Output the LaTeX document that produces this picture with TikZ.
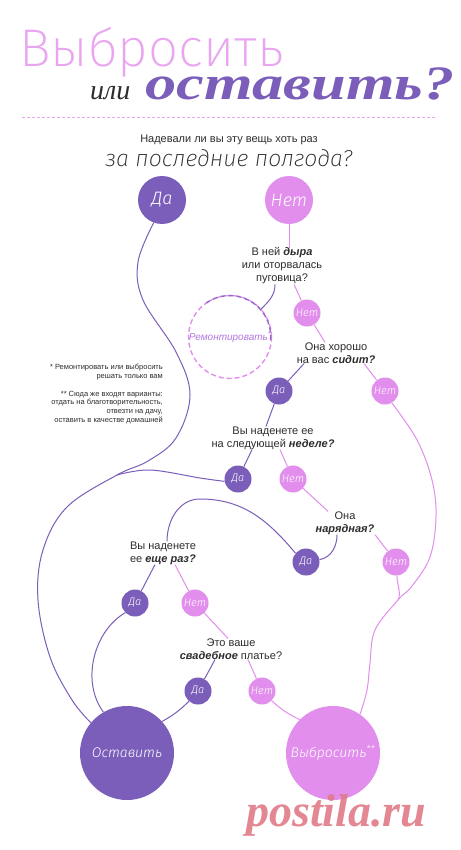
\documentclass[tikz,border=0pt]{standalone}
\usepackage{fontspec}
\setmainfont{Liberation Sans}
\IfFontExistsTF{Fira Sans ExtraLight}{\newfontfamily\thinup{Fira Sans ExtraLight}}{%
  \IfFontExistsTF{Lato Light}{\newfontfamily\thinup{Lato Light}}{%
    \IfFontExistsTF{DejaVu Sans ExtraLight}{\newfontfamily\thinup{DejaVu Sans ExtraLight}}{\newfontfamily\thinup{Liberation Sans}}}}
\IfFontExistsTF{Fira Sans ExtraLight Italic}{\newfontfamily\thinit{Fira Sans ExtraLight Italic}}{%
  \IfFontExistsTF{Lato Light Italic}{\newfontfamily\thinit{Lato Light Italic}}{%
    \IfFontExistsTF{DejaVu Sans ExtraLight}{\newfontfamily\thinit{DejaVu Sans ExtraLight}[FakeSlant=0.2]}{\newfontfamily\thinit{Liberation Sans Italic}}}}
\IfFontExistsTF{Fira Sans Light Italic}{\newfontfamily\lightit{Fira Sans Light Italic}}{%
  \IfFontExistsTF{Lato Light Italic}{\newfontfamily\lightit{Lato Light Italic}}{\newfontfamily\lightit{Liberation Sans Italic}}}
\newfontfamily\seriffont{Liberation Serif}
\definecolor{dapurple}{RGB}{123,94,185}
\definecolor{netpink}{RGB}{226,142,236}
\definecolor{titlepink}{RGB}{233,165,240}
\definecolor{txtgray}{RGB}{45,45,45}
\definecolor{remtext}{RGB}{180,120,225}
\definecolor{wmred}{RGB}{224,122,136}
\newcommand\emphb[1]{{\bfseries\itshape #1}}

\begin{document}
\begin{tikzpicture}[x=1pt,y=1pt,
  dabig/.style={circle,fill=dapurple,minimum size=48pt,inner sep=0pt,text=white,font=\lightit\fontsize{18}{18}\selectfont},
  netbig/.style={dabig,fill=netpink},
  dasmall/.style={circle,fill=dapurple,minimum size=27pt,inner sep=0pt,text=white,font=\lightit\fontsize{11}{11}\selectfont},
  netsmall/.style={dasmall,fill=netpink},
  final/.style={circle,minimum size=94pt,inner sep=0pt,text=white,font=\lightit\fontsize{14}{14}\selectfont},
  ques/.style={align=center,text=txtgray,inner sep=0pt,font=\fontsize{11}{13}\selectfont},
  daline/.style={dapurple,line width=1pt},
  netline/.style={netpink,line width=1pt}]
  \useasboundingbox[fill=white] (0,0) rectangle (460,-850);

  % Title
  \node[anchor=base west,inner sep=0pt,text=titlepink,font=\thinup\fontsize{53}{53}\selectfont] (ttl) at (19,-67) {Выбросить};
  \node[anchor=base west,inner sep=0pt,text=txtgray,font=\seriffont\itshape\fontsize{28}{28}\selectfont] (ili) at (90,-100) {или};
  \node[anchor=base west,inner sep=0pt,text=dapurple,font=\seriffont\bfseries\itshape\fontsize{48}{48}\selectfont] (ost) at (145,-100) {\scalebox{1.3}[1]{оставить?}};
  \draw[titlepink,dash pattern=on 3pt off 2pt] (22,-117) -- (437,-117);

  % First question
  \node[ques] (q0a) at (229,-140) {Надевали ли вы эту вещь хоть раз};
  \node[inner sep=0pt,text=txtgray,font=\thinit\fontsize{23}{23}\selectfont] (q0b) at (229,-158) {за последние полгода?};
  \node[dabig] (da0) at (162,-200) {Да};
  \node[netbig] (net0) at (289,-200) {Нет};

  % Questions
  \node[ques] (q1) at (282,-266) {В ней \emphb{дыра}\\или оторвалась\\пуговица?};
  \node[ques] (q2) at (336,-353) {Она хорошо\\на вас \emphb{сидит?}};
  \node[ques] (q3) at (273,-438) {Вы наденете ее\\на следующей \emphb{неделе?}};
  \node[ques] (q4) at (345,-523) {Она\\\emphb{нарядная?}};
  \node[ques,align=left] (q5) at (163,-553) {Вы наденете\\ее \emphb{еще раз?}};
  \node[ques] (q6) at (231,-649) {Это ваше\\\emphb{свадебное} платье?};

  % Answers
  \node[netsmall] (net1) at (307,-313) {Нет};
  \node[dasmall] (da2) at (279,-391) {Да};
  \node[netsmall] (net2) at (385,-391) {Нет};
  \node[dasmall] (da3) at (238,-479) {Да};
  \node[netsmall] (net3) at (293,-479) {Нет};
  \node[dasmall] (da4) at (306,-562) {Да};
  \node[netsmall] (net4) at (396,-562) {Нет};
  \node[dasmall] (da5) at (135,-603) {Да};
  \node[netsmall] (net5) at (195,-603) {Нет};
  \node[dasmall] (da6) at (198,-691) {Да};
  \node[netsmall] (net6) at (262,-691) {Нет};

  % Repair
  \node[circle,minimum size=82pt,inner sep=0pt,outer sep=0pt,draw=netpink,line width=1.4pt,dash pattern=on 5pt off 3pt,text=remtext,font=\itshape\fontsize{10}{10}\selectfont] (rem) at (230,-337) {Ремонтировать\textsuperscript{*}};
  \draw[dapurple!75!netpink,line width=1.4pt,dash pattern=on 5pt off 3pt] (rem.125) arc[start angle=125,end angle=-5,radius=41pt];

  % Results
  \node[final,fill=dapurple] (keep) at (127,-753) {Оставить};
  \node[final,fill=netpink] (toss) at (333,-753) {Выбросить\textsuperscript{**}};

  % Notes
  \node[align=right,anchor=north east,inner sep=0pt,text=txtgray,font=\fontsize{7.5}{8.7}\selectfont] (notes) at (163,-364) {* Ремонтировать или выбросить\\решать только вам\\[9pt]** Сюда же входят варианты:\\отдать на благотворительность,\\отвезти на дачу,\\оставить в качестве домашней};

  % Connectors
  \draw[netline] (net0.south) -- (net0.south |- q1.north);
  \draw[daline] ([xshift=-7pt]q1.south) to[out=-90,in=45] (rem.42);
  \draw[netline] ([xshift=12pt]q1.south) -- (net1);
  \draw[netline] (net1) -- ([xshift=-11pt]q2.north);
  \draw[daline] ([xshift=-32pt]q2.south) -- (da2);
  \draw[netline] ([xshift=28pt]q2.south) -- (net2);
  \draw[daline] (da2) -- ([xshift=-7pt]q3.north);
  \draw[daline] ([xshift=-21pt]q3.south) -- (da3);
  \draw[netline] ([xshift=7pt]q3.south) -- (net3);
  \draw[netline] (net3) -- ([xshift=-17pt]q4.north);
  \draw[daline] ([xshift=-8pt]q4.south) to[out=-90,in=10] (da4.10);
  \draw[netline] ([xshift=30pt]q4.south) -- (net4);
  \draw[daline] (da4.140) to[out=130,in=0] (200,-499) to[out=180,in=90] ([xshift=4pt]q5.north);
  \draw[daline] ([xshift=-8pt]q5.south) -- (da5);
  \draw[netline] ([xshift=12pt]q5.south) -- (net5);
  \draw[netline] (net5) -- ([xshift=-3pt]q6.north);
  \draw[daline] ([xshift=-16pt]q6.south) -- (da6);
  \draw[netline] ([xshift=17pt]q6.south) -- (net6);
  \draw[daline] (da6) to[bend left=8] (keep.42);
  \draw[netline] (net6) to[bend right=8] (toss.135);
  \draw[daline] (da5.225) .. controls (95,-630) and (80,-680) .. (keep.120);

  % Long lines
  \coordinate (joinL) at (117,-475);
  \coordinate (joinR) at (398,-600);
  \draw[daline] plot[smooth,tension=0.6] coordinates {(da0.250) (138,-262) (143,-300) (176,-352) (190,-395) (176,-438) (148,-461) (joinL) (67,-507) (43,-550) (38,-600) (50,-657) (72,-700) (keep.140)};
  \draw[daline] plot[smooth,tension=0.6] coordinates {(da3.190) (200,-478) (150,-470) (joinL)};
  \draw[netline] plot[smooth,tension=0.6] coordinates {(net2.-60) (417,-440) (432,-480) (436,-517) (430,-557) (412,-586) (joinR) (375,-630) (370,-663) (367,-690) (toss.55)};
  \draw[netline] (net4.-85) to[out=-95,in=65] (joinR);

  % Watermark
  \node[anchor=base west,inner sep=0pt,text=wmred,opacity=0.9,font=\seriffont\bfseries\itshape\fontsize{46}{46}\selectfont] (wm) at (246,-826) {postila.ru};
\end{tikzpicture}
\end{document}
